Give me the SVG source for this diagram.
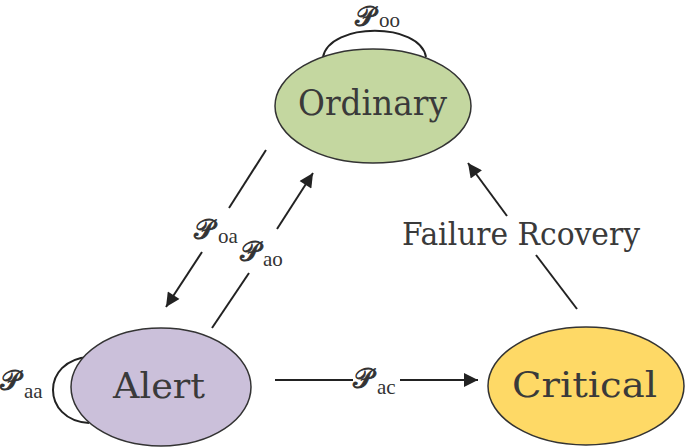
<svg xmlns="http://www.w3.org/2000/svg" width="685" height="448" viewBox="0 0 685 448">
<defs>
<marker id="ah" viewBox="0 0 10 10" refX="10" refY="5" markerWidth="8" markerHeight="7" markerUnits="strokeWidth" orient="auto">
<path d="M0,0 L10,5 L0,10 Z" fill="#222"/>
</marker>
<style>
.node{stroke:#333;stroke-width:1.5}
.lbl{font-family:"DejaVu Serif","Liberation Serif",serif;font-stretch:condensed;fill:#3a3a3a}
.edge{stroke:#222;stroke-width:2;fill:none}
.loop{stroke:#222;stroke-width:2;fill:none}
.P{font-family:"DejaVu Serif","DejaVu Sans",serif;font-size:28px;fill:#333;stroke:#333;stroke-width:0.8}
.sub{font-family:"Liberation Serif","DejaVu Serif",serif;font-size:21px;fill:#333}
</style>
</defs>
<g id="connectors">
<path class="loop" d="M323,57 C330,22 420,22 426,57"/>
<path class="loop" d="M89,357 C41,360 41,420 89,423"/>
<line class="edge" x1="266" y1="150" x2="229" y2="208"/>
<line class="edge" x1="202" y1="252" x2="166" y2="307" marker-end="url(#ah)"/>
<line class="edge" x1="212" y1="328" x2="249" y2="273"/>
<line class="edge" x1="277" y1="229" x2="313" y2="173" marker-end="url(#ah)"/>
<line class="edge" x1="275" y1="380" x2="353" y2="380"/>
<line class="edge" x1="400" y1="380" x2="478" y2="380" marker-end="url(#ah)"/>
<line class="edge" x1="577" y1="309" x2="536" y2="255"/>
<line class="edge" x1="507" y1="216" x2="468" y2="163" marker-end="url(#ah)"/>
<g id="edge-labels">
<text class="P" x="355" y="25.5" font-size="26">𝒫</text><text class="sub" x="379" y="27">oo</text>
<text class="P" x="0" y="390">𝒫</text><text class="sub" x="24" y="398">aa</text>
<text class="P" x="194" y="239">𝒫</text><text class="sub" x="218" y="243">oa</text>
<text class="P" x="240" y="261">𝒫</text><text class="sub" x="263" y="266">ao</text>
<text class="P" x="353" y="388">𝒫</text><text class="sub" x="377" y="394">ac</text>
<text class="lbl" x="402" y="245" font-size="31" textLength="238" lengthAdjust="spacingAndGlyphs">Failure Rcovery</text>
</g>
</g>
<g id="ordinary">
<ellipse class="node" cx="373" cy="106" rx="98" ry="57" fill="#c4d7a0"/>
<text class="lbl" x="298" y="115" font-size="36" textLength="149" lengthAdjust="spacingAndGlyphs">Ordinary</text>
</g>
<g id="alert">
<ellipse class="node" cx="161" cy="387" rx="90" ry="59" fill="#cbc0da"/>
<text class="lbl" x="113" y="398" font-size="36" textLength="92" lengthAdjust="spacingAndGlyphs">Alert</text>
</g>
<g id="critical">
<ellipse class="node" cx="586" cy="386" rx="98" ry="59" fill="#fed966"/>
<text class="lbl" x="512" y="397" font-size="36" textLength="145" lengthAdjust="spacingAndGlyphs">Critical</text>
</g>
</svg>
